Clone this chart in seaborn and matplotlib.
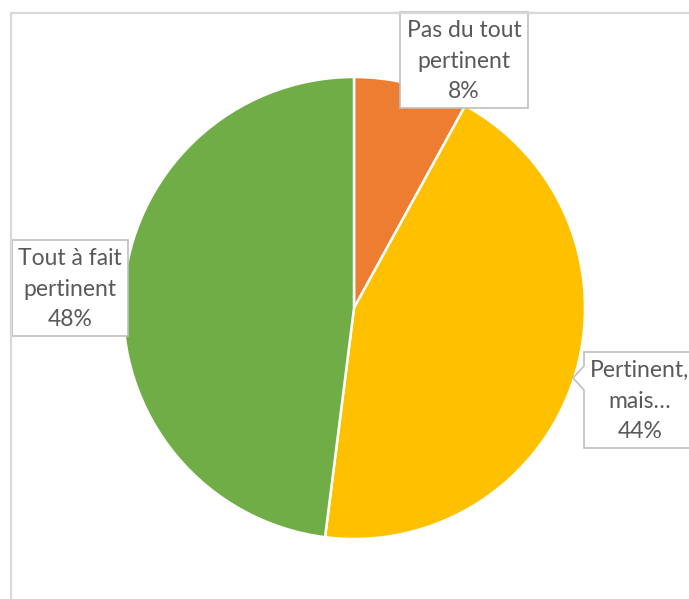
import matplotlib
matplotlib.use("Agg")
import matplotlib.pyplot as plt
import seaborn as sns
from matplotlib.patches import Rectangle, Polygon

# Data
labels = ["Pas du tout\npertinent", "Pertinent,\nmais...", "Tout à fait\npertinent"]
shares = [8, 44, 48]
colors = ["#ED7D31", "#FFC000", "#70AD47"]

sns.set_theme(style="white")
plt.rcParams["font.family"] = ["Lato", "DejaVu Sans"]

W, H = 689, 599
fig = plt.figure(figsize=(W / 100, H / 100), dpi=100)

# pie axes, placed so the disc sits like in the original
ax = fig.add_axes([123 / W, 1 - 539 / H, 462 / W, 462 / H])
ax.pie(
    shares,
    colors=colors,
    startangle=90,
    counterclock=False,
    radius=1,
    wedgeprops=dict(edgecolor="white", linewidth=1.8),
)
ax.set_xlim(-1, 1)
ax.set_ylim(-1, 1)
ax.set_aspect("equal")
ax.axis("off")

# overlay in pixel coordinates for frame and data label boxes
ov = fig.add_axes([0, 0, 1, 1], zorder=5)
ov.set_xlim(0, W)
ov.set_ylim(H, 0)
ov.axis("off")
ov.patch.set_alpha(0)

# chart frame (cropped)
ov.plot([10.5, 10.5, W + 5], [H + 5, 12.5, 12.5], color="#D9D9D9", lw=1.6, solid_joinstyle="miter")

box_kw = dict(facecolor="white", edgecolor="#BFBFBF", lw=1.2)
txt_kw = dict(color="#595959", fontsize=16.5, ha="center", va="center", linespacing=1.55)

# Pas du tout pertinent
ov.add_patch(Rectangle((400, 12), 128, 96, **box_kw))
ov.text(464, 61, f"{labels[0]}\n{shares[0]}%", **txt_kw)

# Tout a fait pertinent
ov.add_patch(Rectangle((12, 240), 116, 96, **box_kw))
ov.text(70, 289, f"{labels[2]}\n{shares[2]}%", **txt_kw)

# Pertinent, mais... (callout with pointer)
ov.add_patch(Polygon(
    [(584, 352), (W + 5, 352), (W + 5, 448), (584, 448), (584, 390), (573, 378), (584, 366)],
    closed=True, **box_kw))
ov.text(640, 401, f"{labels[1].replace('...', '…')}\n{shares[1]}%", **txt_kw)

fig.savefig("out.png", dpi=100)
